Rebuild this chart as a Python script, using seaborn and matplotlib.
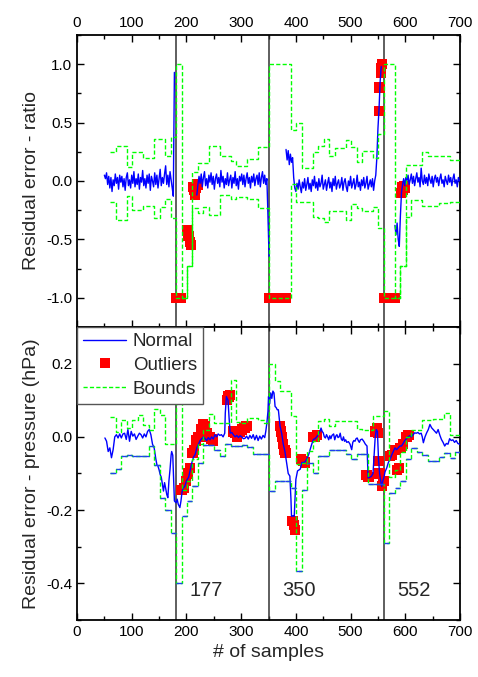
import numpy as np
import pandas as pd
import matplotlib
matplotlib.use("Agg")
import matplotlib.pyplot as plt
import seaborn as sns
from matplotlib.lines import Line2D
from matplotlib.ticker import MultipleLocator

# ---------------- data ----------------
events = [181, 351, 561]
event_labels = ["177", "350", "552"]

# step bounds: one value per 10-sample window, first window starts at sample 61
bound_first = 61
bound_width = 10
bound_last = 700

ratio_upper = [0.25, 0.30, 0.30, 0.12, 0.25, 0.25, 0.20, 0.20, 0.36, 0.36,
               0.21, 0.38, 1.0, -1.0, -0.73, 0.08, 0.15, 0.15, 0.30, 0.30,
               0.21, 0.21, 0.17, 0.13, 0.13, 0.19, 0.19, 0.29, 0.29, 1.0,
               1.0, 1.0, 1.0, 0.44, 0.50, 0.11, 0.11, 0.25, 0.30, 0.36,
               0.21, 0.28, 0.28, 0.35, 0.29, 0.16, 0.26, 0.26, 0.20, 0.40,
               1.0, 1.0, -1.0, -0.73, 0.14, 0.14, 0.14, 0.25, 0.21, 0.21,
               0.21, 0.21, 0.18, 0.18]
ratio_lower = [-0.18, -0.33, -0.33, -0.13, -0.25, -0.25, -0.21, -0.21, -0.32, -0.22,
               -0.15, -0.32, -1.0, -1.0, -0.73, -0.23, -0.27, -0.22, -0.29, -0.29,
               -0.12, -0.12, -0.15, -0.14, -0.14, -0.15, -0.15, -0.23, -0.23, -1.0,
               -1.0, -1.0, -1.0, -0.03, -0.18, -0.18, -0.18, -0.31, -0.32, -0.35,
               -0.26, -0.26, -0.26, -0.33, -0.20, -0.23, -0.26, -0.26, -0.22, -0.40,
               -1.0, -1.0, -1.0, -0.73, -0.31, -0.16, -0.16, -0.21, -0.21, -0.21,
               -0.19, -0.19, -0.18, -0.18]
press_upper = [0.053, 0.012, 0.047, 0.024, 0.047, 0.059, 0.032, 0.020, 0.077, 0.061,
               -0.019, -0.019, 0.093, -0.145, -0.12, -0.06, -0.02, 0.02, 0.063, 0.038,
               0.038, 0.038, 0.156, 0.040, 0.038, 0.052, 0.052, 0.045, 0.038, 0.20,
               0.152, 0.124, 0.124, 0.056, -0.075, -0.07, -0.039, -0.012, 0.043, 0.049,
               0.029, 0.044, 0.044, 0.044, 0.044, 0.021, 0.019, 0.019, 0.056, 0.056,
               0.07, -0.11, -0.09, -0.04, 0.0, 0.02, 0.02, 0.047, 0.047, 0.05,
               0.05, 0.065, 0.006, 0.006]
press_lower = [-0.10, -0.089, -0.053, -0.05, -0.053, -0.053, -0.053, -0.025, -0.076, -0.166,
               -0.20, -0.262, -0.40, -0.216, -0.175, -0.135, -0.071, -0.021, -0.021, -0.035,
               -0.051, -0.02, -0.025, -0.025, -0.021, -0.027, -0.046, -0.046, -0.046, -0.148,
               -0.12, -0.12, -0.12, -0.14, -0.366, -0.144, -0.07, -0.098, -0.053, -0.053,
               -0.035, -0.035, -0.035, -0.046, -0.06, -0.048, -0.048, -0.13, -0.13, -0.13,
               -0.289, -0.153, -0.14, -0.121, -0.06, -0.03, -0.04, -0.05, -0.066, -0.066,
               -0.055, -0.044, -0.057, -0.04]

# normal ratio residual, four segments sampled every 2 samples
ratio_step = 2
ratio_seg_start = [50, 219, 382, 581]
ratio_seg_a = [0.05, 0.02, 0.07, -0.03, 0.04, -0.06, 0.03, -0.09, 0.01, -0.04,
               0.06, -0.02, 0.03, -0.07, 0.05, -0.01, 0.04, -0.05, 0.02, -0.08,
               0.03, 0.07, -0.04, 0.01, -0.06, 0.05, -0.02, 0.08, -0.05, 0.02,
               -0.03, 0.06, -0.07, 0.03, -0.01, 0.09, -0.04, 0.02, -0.06, 0.05,
               -0.02, 0.06, -0.08, 0.04, 0.0, -0.05, 0.07, -0.03, 0.05, -0.06,
               0.02, 0.10, -0.04, 0.03, -0.02, 0.06, 0.13, -0.03, 0.05, -0.05,
               0.08, 0.01, -0.06, -0.13, 0.93]
ratio_seg_b = [-0.12, -0.03, 0.04, -0.02, 0.06, -0.05, 0.03, 0.08, -0.04, 0.02,
               -0.06, 0.05, -0.01, 0.07, -0.03, 0.04, -0.07, 0.02, 0.06, -0.02,
               0.03, -0.05, 0.09, -0.01, 0.04, -0.06, 0.02, -0.03, 0.07, -0.04,
               0.01, 0.05, -0.06, 0.03, -0.02, 0.08, -0.04, 0.02, -0.07, 0.04,
               0.0, 0.06, -0.03, 0.05, -0.05, 0.02, 0.07, -0.02, 0.03, -0.06,
               0.04, -0.01, 0.06, -0.04, 0.02, 0.05, -0.03, 0.07, -0.05, 0.03,
               0.08, -0.02, 0.05, -0.03, 0.02, -0.30, -0.65]
ratio_seg_c = [0.27, 0.18, 0.26, 0.14, 0.23, 0.16, 0.20, 0.03, -0.06, -0.09,
               -0.02, -0.07, 0.01, -0.05, -0.10, -0.01, -0.06, 0.02, -0.08, -0.03,
               0.03, -0.07, -0.02, -0.09, 0.01, -0.04, 0.04, -0.06, -0.01, -0.08,
               0.02, -0.05, -0.02, 0.05, -0.07, -0.03, 0.01, -0.08, -0.02, 0.03,
               -0.06, -0.01, -0.09, 0.02, -0.04, 0.04, -0.07, -0.02, 0.01, -0.06,
               -0.03, 0.03, -0.08, -0.01, 0.02, -0.05, -0.09, 0.0, -0.04, 0.04,
               -0.06, -0.02, 0.02, -0.07, -0.03, 0.05, -0.05, -0.01, -0.08, 0.01,
               -0.04, 0.03, -0.06, -0.02, 0.04, -0.07, -0.03, 0.01, -0.05, 0.02,
               -0.08, 0.0, 0.05, 0.20, 0.45, 0.62, 0.85, 0.98]
ratio_seg_d = [-0.38, -0.46, -0.36, -0.50, -0.56, -0.30, -0.10, -0.03, 0.02, -0.04,
               0.03, 0.0, 0.05, -0.03, 0.01, 0.06, -0.02, 0.04, -0.04, 0.02,
               0.07, -0.01, 0.03, -0.05, 0.11, 0.0, -0.03, 0.05, -0.02, 0.03,
               -0.04, 0.06, 0.01, -0.02, 0.04, -0.05, 0.02, 0.05, -0.01, 0.03,
               -0.04, 0.02, 0.06, -0.02, 0.01, -0.05, 0.04, 0.0, -0.03, 0.05,
               -0.01, 0.03, -0.04, 0.02, 0.06, -0.02, 0.01, -0.05, 0.03, 0.0]

ratio_out_x = [181, 184, 187, 190, 202, 204, 206, 208, 212, 214, 216, 218, 220,
               351, 356, 361, 366, 371, 376, 381, 552, 553, 555, 556, 557,
               561, 566, 571, 576, 580, 592, 594, 596, 598, 600]
ratio_out_y = [-1, -1, -1, -1, -0.42, -0.47, -0.52, -0.55, -0.05, -0.08, -0.12, -0.06, -0.03,
               -1, -1, -1, -1, -1, -1, -1, 0.6, 0.8, 0.93, 0.97, 1.0,
               -1, -1, -1, -1, -1, -0.1, -0.05, -0.08, -0.04, -0.06]

# normal pressure residual (sample, hPa)
press_normal = [
    (51, -0.003), (54, -0.012), (57, -0.04), (60, -0.03), (63, -0.057), (66, -0.035), (69, 0.0), (72, 0.006),
    (75, -0.003), (78, 0.008), (81, -0.003), (84, 0.008), (87, 0.01), (90, -0.007), (93, 0.02), (96, -0.012),
    (99, 0.015), (102, 0.002), (105, 0.008), (108, -0.007), (111, 0.002), (114, 0.01), (117, 0.006), (120, -0.003),
    (123, 0.008), (126, 0.0), (129, 0.015), (132, 0.02), (135, 0.006), (138, -0.02), (141, -0.03), (144, -0.06),
    (146, -0.076), (148, -0.08), (150, -0.09), (152, -0.103), (154, -0.11), (156, -0.13), (158, -0.148), (160, -0.125),
    (162, -0.14), (164, -0.157), (166, -0.166), (168, -0.12), (170, -0.089), (172, -0.05), (173, -0.04), (175, -0.05),
    (177, -0.13), (178, -0.175), (181, -0.18), (183, -0.17), (185, -0.184), (188, -0.193), (190, -0.175), (192, -0.15),
    (194, -0.14), (197, -0.135), (200, -0.12), (204, -0.11), (207, -0.09), (210, -0.07), (213, -0.055), (216, -0.048),
    (219, -0.03), (222, -0.02), (225, -0.01), (228, -0.005), (231, 0.0), (234, -0.005), (237, -0.01), (240, -0.002),
    (243, -0.008), (246, 0.0), (249, -0.006), (252, 0.006), (255, 0.0), (258, 0.008), (261, 0.004), (264, 0.006),
    (267, 0.0), (270, 0.01), (271, 0.065), (272, 0.09), (273, 0.11), (276, 0.1), (278, 0.05), (280, 0.01),
    (283, 0.012), (286, 0.005), (289, 0.0), (292, 0.004), (295, -0.002), (298, 0.003), (301, 0.0), (304, -0.005),
    (307, -0.004), (310, 0.002), (313, -0.006), (316, 0.004), (319, -0.004), (322, 0.006), (325, -0.008), (328, 0.004),
    (331, -0.01), (334, 0.002), (337, -0.006), (340, 0.004), (343, -0.002), (345, 0.015), (347, 0.038), (349, 0.07),
    (350, 0.11), (352, 0.09), (354, 0.12), (356, 0.105), (358, 0.125), (360, 0.12), (362, 0.083), (364, 0.08),
    (366, 0.074), (368, 0.074), (371, 0.03), (374, 0.01), (377, -0.02), (380, -0.04), (383, -0.07), (386, -0.1),
    (389, -0.107), (391, -0.17), (392, -0.217), (395, -0.215), (397, -0.217), (399, -0.15), (400, -0.116), (403, -0.093),
    (406, -0.09), (408, -0.088), (411, -0.07), (414, -0.07), (417, -0.068), (420, -0.06), (423, -0.05), (426, -0.035),
    (429, -0.02), (432, -0.007), (435, -0.005), (438, 0.0), (441, 0.006), (444, 0.015), (446, 0.024), (448, 0.015),
    (450, 0.011), (452, 0.0), (454, -0.003), (456, 0.006), (458, 0.0), (460, -0.008), (462, 0.003), (464, -0.005),
    (466, 0.004), (469, 0.008), (471, -0.008), (473, 0.002), (475, 0.006), (477, -0.002), (479, 0.0), (481, 0.01),
    (483, -0.006), (485, -0.01), (487, 0.0), (489, -0.012), (491, -0.008), (493, -0.015), (496, -0.013), (499, -0.02),
    (502, -0.035), (504, -0.015), (506, -0.01), (508, -0.012), (510, -0.005), (512, -0.003), (514, -0.01), (516, -0.015),
    (518, -0.008), (521, -0.006), (524, -0.012), (527, -0.02), (530, -0.025), (531, -0.07), (532, -0.112), (535, -0.11),
    (538, -0.108), (541, -0.1), (543, -0.05), (545, 0.0), (547, 0.02), (549, 0.015), (550, -0.02), (551, -0.06),
    (553, -0.1), (555, -0.12), (557, -0.135), (559, -0.12), (561, -0.11), (563, -0.095), (566, -0.085), (569, -0.07),
    (572, -0.062), (575, -0.05), (578, -0.04), (581, -0.03), (584, -0.035), (587, -0.03), (590, -0.025), (593, -0.025),
    (596, -0.018), (599, -0.01), (602, -0.005), (605, 0.0), (608, 0.003), (611, 0.0), (614, 0.005), (617, 0.011),
    (620, 0.01), (623, 0.012), (626, 0.008), (629, 0.01), (631, 0.0), (633, -0.016), (636, 0.0), (639, 0.011),
    (642, 0.02), (645, 0.034), (648, 0.025), (651, 0.02), (654, 0.015), (657, 0.01), (660, 0.02), (663, 0.005),
    (666, -0.007), (669, -0.015), (672, -0.025), (675, -0.018), (678, -0.02), (681, -0.005), (684, -0.01), (687, -0.008),
    (690, -0.015), (693, -0.01), (696, -0.018), (699, -0.02),
]

press_out_x = [191, 195, 199, 203, 207, 211, 214, 218, 222, 226, 230, 234, 238, 242, 246, 249,
               274, 277, 280, 285, 289, 293, 297, 302, 306, 310,
               371, 373, 375, 377, 379, 381, 394, 396, 398, 410, 413, 417, 431, 435, 438,
               529, 533, 545, 548, 550, 551, 553, 557, 560,
               572, 576, 582, 585, 588, 591, 596, 602, 606]
press_out_y = [-0.145, -0.14, -0.12, -0.10, -0.085, -0.045, -0.035, -0.01, 0.0, 0.02, 0.035, 0.03, 0.01, 0.0, -0.005, -0.01,
               0.10, 0.11, 0.115, 0.015, 0.01, 0.0, 0.015, 0.02, 0.025, 0.03,
               0.03, 0.015, 0.0, -0.02, -0.035, -0.045, -0.23, -0.24, -0.255, -0.06, -0.065, -0.07, 0.0, 0.0, 0.005,
               -0.105, -0.11, 0.015, 0.025, 0.01, -0.065, -0.10, -0.135, -0.12,
               -0.053, -0.05, -0.035, -0.09, -0.085, -0.03, -0.02, 0.0, 0.005]

# ---------------- style ----------------
sns.set_style("ticks")
plt.rcParams["font.family"] = ["Liberation Sans", "DejaVu Sans"]
plt.rcParams["axes.unicode_minus"] = False

BLUE = "#0000ff"
RED = "#ff0000"
GREEN = "#00ff00"
DASH = (0, (3, 1.6))

fig = plt.figure(figsize=(4.78, 6.77), dpi=100)
ax1 = fig.add_axes([0.1611, 0.5170, 0.8013, 0.4313])
ax2 = fig.add_axes([0.1611, 0.0842, 0.8013, 0.4328])


def step_frame(vals):
    edges = [bound_first + i * bound_width for i in range(len(vals))]
    return pd.DataFrame({"sample": edges + [bound_last], "value": list(vals) + [vals[-1]]})


ratio_rows = []
for k, (s, seg) in enumerate(zip(ratio_seg_start, [ratio_seg_a, ratio_seg_b, ratio_seg_c, ratio_seg_d])):
    for i, v in enumerate(seg):
        ratio_rows.append((s + ratio_step * i, v, k))
ratio_df = pd.DataFrame(ratio_rows, columns=["sample", "value", "seg"])
press_df = pd.DataFrame(press_normal, columns=["sample", "value"])

for ax in (ax1, ax2):
    for e in events:
        ax.axvline(e, color="#333333", lw=1.1, zorder=1.5)

MARKER_S = 55

# top panel
sns.scatterplot(x=ratio_out_x, y=ratio_out_y, marker="s", s=MARKER_S, color=RED, edgecolor="none",
                ax=ax1, zorder=2, legend=False)
sns.lineplot(data=ratio_df, x="sample", y="value", units="seg", estimator=None, sort=False,
             color=BLUE, lw=1.0, ax=ax1, zorder=3, legend=False)
for vals in (ratio_upper, ratio_lower):
    sns.lineplot(data=step_frame(vals), x="sample", y="value", estimator=None,
                 drawstyle="steps-post", color=GREEN, linestyle=DASH, lw=1.0, ax=ax1, zorder=4)

# bottom panel
sns.scatterplot(x=press_out_x, y=press_out_y, marker="s", s=MARKER_S, color=RED, edgecolor="none",
                ax=ax2, zorder=2, legend=False)
sns.lineplot(data=press_df, x="sample", y="value", estimator=None, sort=False,
             color=BLUE, lw=1.0, ax=ax2, zorder=3)
for vals in (press_upper, press_lower):
    sns.lineplot(data=step_frame(vals), x="sample", y="value", estimator=None,
                 drawstyle="steps-post", color=GREEN, linestyle=DASH, lw=1.0, ax=ax2, zorder=4)
low_edges = [bound_first + i * bound_width for i in range(len(press_lower))]
ax2.hlines(press_lower, low_edges, low_edges[1:] + [bound_last], colors="#1f3ff0", lw=1.0, zorder=4.5)

for e, lab in zip(events, event_labels):
    ax2.text(e + 55, -0.42, lab, ha="center", va="center", fontsize=14.5)

# axes formatting
for ax in (ax1, ax2):
    ax.set_xlim(0, 700)
    ax.xaxis.set_major_locator(MultipleLocator(100))
    ax.xaxis.set_minor_locator(MultipleLocator(50))
    ax.tick_params(which="both", direction="in", top=True, right=True, width=1.0,
                   labelsize=11, colors="black")
    ax.tick_params(which="major", length=5)
    ax.tick_params(which="minor", length=3)
    for sp in ax.spines.values():
        sp.set_linewidth(1.3)
        sp.set_color("black")
        sp.set_visible(True)
    ax.set_xlabel("")

ax1.set_ylim(-1.25, 1.25)
ax1.yaxis.set_major_locator(MultipleLocator(0.5))
ax1.yaxis.set_minor_locator(MultipleLocator(0.25))
ax1.tick_params(labeltop=True, labelbottom=False)
ax1.yaxis.set_major_formatter(matplotlib.ticker.FormatStrFormatter("%.1f"))
ax1.set_ylabel("Residual error - ratio", fontsize=14)

ax2.set_ylim(-0.5, 0.3)
ax2.yaxis.set_major_locator(MultipleLocator(0.2))
ax2.yaxis.set_minor_locator(MultipleLocator(0.1))
ax2.tick_params(labeltop=False, labelbottom=True)
ax2.yaxis.set_major_formatter(matplotlib.ticker.FormatStrFormatter("%.1f"))
ax2.set_ylabel("Residual error - pressure (hPa)", fontsize=14)
ax2.set_xlabel("# of samples", fontsize=14)

handles = [Line2D([], [], color=BLUE, lw=1.0),
           Line2D([], [], marker="s", color=RED, ls="none", markersize=6.5, markeredgewidth=0),
           Line2D([], [], color=GREEN, lw=1.0, linestyle=DASH)]
leg = ax2.legend(handles, ["Normal", "Outliers", "Bounds"], loc="upper left", borderaxespad=0,
                 fontsize=13.5, frameon=True, fancybox=False, edgecolor="#555555", framealpha=1,
                 handlelength=2.3, handletextpad=0.35, labelspacing=0.36, borderpad=0.32)
leg.get_frame().set_linewidth(1.0)
leg.set_zorder(10)

fig.align_ylabels([ax1, ax2])
fig.savefig("out.png", dpi=100)
